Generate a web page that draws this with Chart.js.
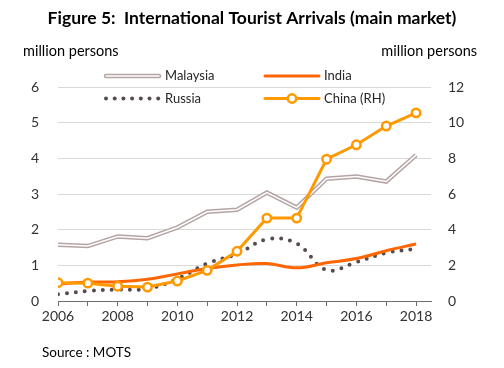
<!DOCTYPE html>
<html lang="en">
<head>
<meta charset="utf-8">
<title>International Tourist Arrivals (main market)</title>
<script src="https://cdn.jsdelivr.net/npm/chart.js"></script>
<style>
  body { margin: 0; background: #fff; }
  #wrap { width: 504px; height: 368px; }
</style>
</head>
<body>
<div id="wrap"><canvas id="chart" width="504" height="368"></canvas></div>
<script>
// values in million persons
var years    = [2006, 2007, 2008, 2009, 2010, 2011, 2012, 2013, 2014, 2015, 2016, 2017, 2018];
var malaysia = [1.58, 1.54, 1.81, 1.76, 2.06, 2.50, 2.56, 3.04, 2.62, 3.43, 3.49, 3.35, 4.09];
var india    = [0.47, 0.53, 0.54, 0.61, 0.76, 0.91, 1.01, 1.05, 0.93, 1.07, 1.19, 1.41, 1.60];
var russia   = [0.19, 0.28, 0.32, 0.34, 0.62, 1.05, 1.32, 1.73, 1.61, 0.87, 1.09, 1.35, 1.46];
var china    = [1.03, 1.00, 0.83, 0.78, 1.12, 1.72, 2.79, 4.65, 4.65, 7.95, 8.76, 9.81, 10.55];  // right axis

var legendNames = ['Malaysia', 'India', 'Russia', 'China (RH)'];
var unitLabel = 'million persons';
var sourceText = 'Source : MOTS';

var cMalaysia = '#b5a4a4';
var cIndia = '#ff6600';
var cRussia = '#574b4b';
var cChina = '#ff9900';

function pts(arr) {
  return years.map(function (y, i) { return { x: y, y: arr[i] }; });
}

// unit labels, legend and source drawn on top of the chart
var extras = {
  id: 'extras',
  afterDraw: function (chart) {
    var ctx = chart.ctx;
    ctx.save();
    ctx.textBaseline = 'middle';
    ctx.fillStyle = '#000';
    ctx.font = '14.5px Lato';
    ctx.textAlign = 'left';
    ctx.fillText(unitLabel, 23, 51);
    ctx.textAlign = 'right';
    ctx.fillText(unitLabel, 477, 51);

    ctx.lineCap = 'round';
    // Malaysia (double line)
    ctx.strokeStyle = cMalaysia; ctx.lineWidth = 4.5;
    ctx.beginPath(); ctx.moveTo(106, 76); ctx.lineTo(159, 76); ctx.stroke();
    ctx.strokeStyle = '#fff'; ctx.lineWidth = 1.5;
    ctx.beginPath(); ctx.moveTo(106, 76); ctx.lineTo(159, 76); ctx.stroke();
    // India
    ctx.strokeStyle = cIndia; ctx.lineWidth = 3;
    ctx.beginPath(); ctx.moveTo(265, 76); ctx.lineTo(319, 76); ctx.stroke();
    // Russia dots
    ctx.fillStyle = cRussia;
    for (var i = 0; i < 7; i++) {
      ctx.beginPath(); ctx.arc(106 + i * 8.7, 98.5, 2, 0, Math.PI * 2); ctx.fill();
    }
    // China
    ctx.strokeStyle = cChina; ctx.lineWidth = 3;
    ctx.beginPath(); ctx.moveTo(265, 98.5); ctx.lineTo(319, 98.5); ctx.stroke();
    ctx.fillStyle = '#fff'; ctx.lineWidth = 2.5;
    ctx.beginPath(); ctx.arc(292, 98.5, 4.2, 0, Math.PI * 2); ctx.fill(); ctx.stroke();

    ctx.fillStyle = '#262626';
    ctx.textAlign = 'left';
    ctx.font = '13px Lato';
    ctx.fillText(legendNames[0], 165, 76);
    ctx.fillText(legendNames[1], 324, 76);
    ctx.fillText(legendNames[2], 165, 98.5);
    ctx.fillText(legendNames[3], 324, 98.5);

    ctx.fillStyle = '#000';
    ctx.font = '13.5px Lato';
    ctx.fillText(sourceText, 42, 353);
    ctx.restore();
  }
};

Chart.defaults.font.family = 'Lato';
Chart.defaults.color = '#333';

new Chart(document.getElementById('chart'), {
  type: 'line',
  data: {
    datasets: [
      { label: 'Malaysia', data: pts(malaysia), borderColor: cMalaysia, borderWidth: 4.5,
        pointRadius: 0, tension: 0, order: 5 },
      { label: 'Malaysia inner', data: pts(malaysia), borderColor: '#fff', borderWidth: 1.5,
        pointRadius: 0, tension: 0, order: 4 },
      { label: 'Russia', data: pts(russia), borderColor: cRussia, borderWidth: 4,
        borderDash: [0, 9], borderCapStyle: 'round', pointRadius: 0, tension: 0.4, order: 3 },
      { label: 'India', data: pts(india), borderColor: cIndia, borderWidth: 3,
        pointRadius: 0, tension: 0.4, order: 2 },
      { label: 'China (RH)', data: pts(china), yAxisID: 'y2', borderColor: cChina, borderWidth: 3,
        pointRadius: 4.2, pointBorderWidth: 2.5, pointBackgroundColor: '#fff',
        pointBorderColor: cChina, tension: 0, order: 1 }
    ]
  },
  options: {
    responsive: false,
    animation: false,
    layout: { padding: 0 },
    plugins: {
      legend: { display: false },
      tooltip: { enabled: false },
      title: {
        display: true,
        text: 'Figure 5:  International Tourist Arrivals (main market)',
        color: '#000',
        font: { family: 'Lato', size: 17.5, weight: 'bold' },
        padding: { top: 8, bottom: 58 }
      }
    },
    scales: {
      x: {
        type: 'linear',
        min: 2006,
        max: 2018.5,
        afterFit: function (s) { s.height = 67; },
        ticks: {
          stepSize: 1,
          includeBounds: false,
          autoSkip: false,
          maxRotation: 0,
          padding: 2,
          font: { size: 14 },
          callback: function (v) { return v % 2 === 0 ? String(v) : ''; }
        },
        grid: { drawOnChartArea: false, drawTicks: true, tickLength: 5, tickColor: '#6e6e6e' },
        border: { color: '#6e6e6e', width: 1 }
      },
      y: {
        position: 'left',
        min: 0,
        max: 6,
        afterFit: function (s) { s.width = 58; },
        ticks: { stepSize: 1, padding: 19, font: { size: 14 } },
        grid: {
          drawTicks: false,
          color: function (c) { return c.tick && c.tick.value === 0 ? 'rgba(0,0,0,0)' : '#d9d9d9'; }
        },
        border: { display: false }
      },
      y2: {
        position: 'right',
        min: 0,
        max: 12,
        afterFit: function (s) { s.width = 73; },
        ticks: { stepSize: 2, padding: 17, font: { size: 14 } },
        grid: { drawOnChartArea: false, drawTicks: false },
        border: { display: false }
      }
    }
  },
  plugins: [extras]
});
</script>
</body>
</html>
